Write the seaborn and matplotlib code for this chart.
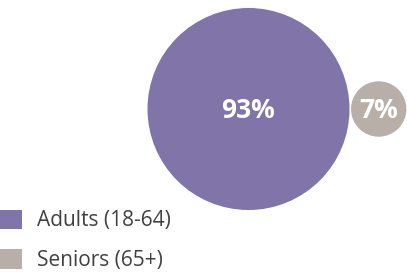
import numpy as np
import matplotlib
matplotlib.use("Agg")
import matplotlib.pyplot as plt
import seaborn as sns
import pandas as pd
from matplotlib.patches import Patch

# 数据
groups = ["Adults (18-64)", "Seniors (65+)"]
shares = [93, 7]
colors = ["#8074A8", "#B9AFA9"]

W, H, DPI = 407, 279, 100

def main():
    sns.set_theme(style="white")
    plt.rcParams['font.family'] = ['Open Sans', 'DejaVu Sans']

    fig = plt.figure(figsize=(W / DPI, H / DPI), dpi=DPI)
    ax = fig.add_axes([0, 0, 1, 1])

    # 面积与比例成正比，半径单位为像素
    k = 101 / np.sqrt(max(shares))
    radii = k * np.sqrt(np.array(shares, dtype=float))
    gap = 1.5
    cy = 109
    cx0 = 248.5
    xs = [cx0, cx0 + radii[0] + gap + radii[1]]

    df = pd.DataFrame({"group": groups, "share": shares, "x": xs, "y": [cy, cy], "r": radii})
    # 散点面积（points^2），1 px = 72/DPI pt
    sizes = {g: (2 * r * 72 / DPI) ** 2 for g, r in zip(groups, radii)}

    sns.scatterplot(data=df, x="x", y="y", hue="group", size="group",
                    sizes=sizes, palette=dict(zip(groups, colors)),
                    linewidth=0, alpha=1, legend=False, ax=ax)
    ax.set_xlim(0, W)
    ax.set_ylim(H, 0)
    ax.set_axis_off()

    for _, row in df.iterrows():
        ax.text(row["x"], row["y"] + 1, f"{row['share']}%", color="white",
                fontsize=19, fontweight="bold", ha="center", va="center")

    fs = 15
    sq = 22 * 72 / DPI / fs
    handles = [Patch(facecolor=c, edgecolor="none") for c in colors]
    ax.legend(handles, groups, loc="lower left", bbox_to_anchor=(0.0, 8 / H),
              frameon=False, fontsize=fs, handlelength=sq, handleheight=sq,
              handletextpad=0.7, labelspacing=0.85, borderaxespad=0.0,
              borderpad=0.0, labelcolor="#404040")

    fig.savefig("out.png", dpi=DPI)
    return

if __name__ == '__main__':
    main()
